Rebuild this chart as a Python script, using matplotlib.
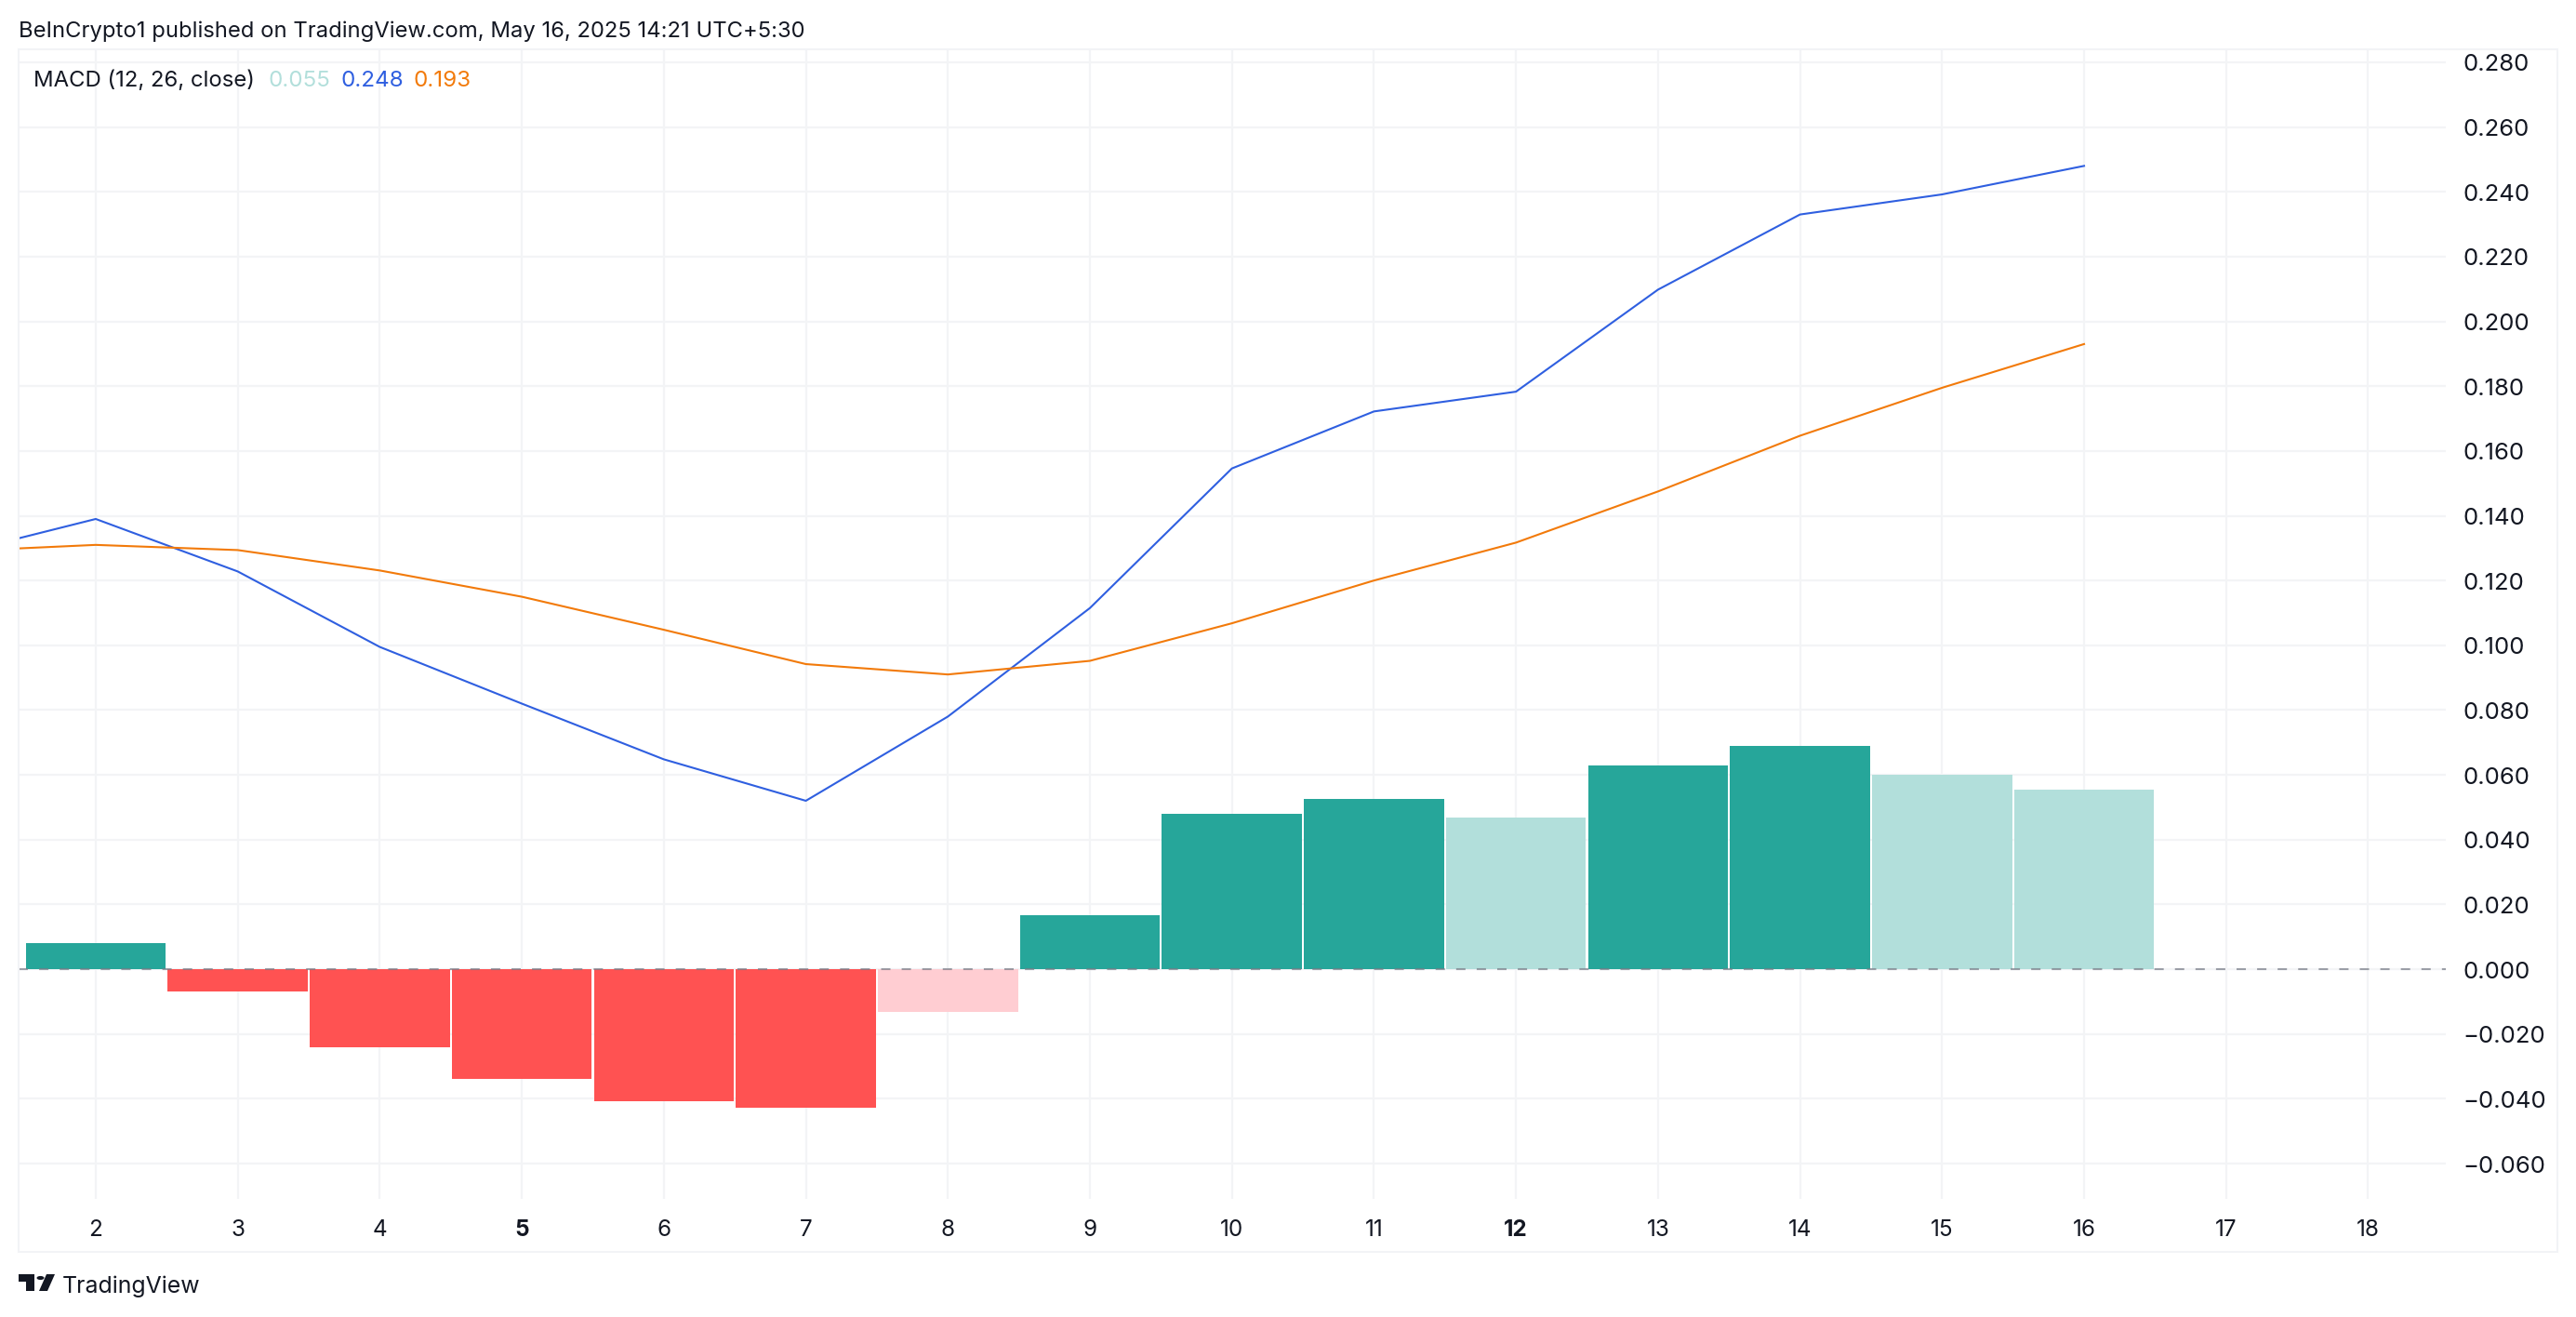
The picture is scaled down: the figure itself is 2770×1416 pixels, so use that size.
import matplotlib
matplotlib.use("Agg")
import matplotlib.pyplot as plt
from matplotlib.patches import Rectangle, Polygon, Circle
from matplotlib.transforms import ScaledTranslation

W, H = 2770, 1416
days = [2, 3, 4, 5, 6, 7, 8, 9, 10, 11, 12, 13, 14, 15, 16]
hist = [0.008, -0.0069, -0.0242, -0.0338, -0.0407, -0.0429, -0.0133, 0.0167,
        0.048, 0.0526, 0.0469, 0.0628, 0.0689, 0.0601, 0.0553]
hist_colors = ['#26a69a', '#ff5252', '#ff5252', '#ff5252', '#ff5252', '#ff5252', '#ffcdd2',
               '#26a69a', '#26a69a', '#26a69a', '#b2dfdb', '#26a69a', '#26a69a', '#b2dfdb', '#b2dfdb']
line_days = [1] + days
macd = [0.128, 0.139, 0.1228, 0.0995, 0.0820, 0.0648, 0.0520, 0.0780, 0.1115, 0.1546,
        0.1722, 0.1783, 0.2098, 0.2330, 0.2392, 0.248]
signal = [0.129, 0.131, 0.1294, 0.1231, 0.1150, 0.1048, 0.0942, 0.0910, 0.0952, 0.1068,
          0.1200, 0.1317, 0.1475, 0.1647, 0.1795, 0.193]
x_ticks = [2, 3, 4, 5, 6, 7, 8, 9, 10, 11, 12, 13, 14, 15, 16, 17, 18]
bold_ticks = [5, 12]
y_ticks = [-0.06, -0.04, -0.02, 0.0, 0.02, 0.04, 0.06, 0.08, 0.10, 0.12, 0.14,
           0.16, 0.18, 0.20, 0.22, 0.24, 0.26, 0.28]

plt.rcParams['font.family'] = ['Inter', 'DejaVu Sans']
fig = plt.figure(figsize=(W / 100, H / 100), dpi=100, facecolor='white')


def fx(px):
    return px / W


def fy(py):
    return 1 - py / H


def add_poly(pts):
    fig.add_artist(Polygon([(fx(a), fy(b)) for a, b in pts], closed=True,
                           transform=fig.transFigure, fc='#131722', ec='none'))


# outer frame
fig.add_artist(Rectangle((fx(20), fy(1346)), (2750 - 20) / W, (1346 - 53) / H,
                         transform=fig.transFigure, fill=False, ec='#f2f3f6', lw=1.5))

ax = fig.add_axes([fx(20), fy(1289), (2630 - 20) / W, (1289 - 53) / H])
ax.set_xlim(1.457, 18.547)
ax.set_ylim(-0.0709, 0.284)
for s in ax.spines.values():
    s.set_visible(False)
ax.grid(True, color='#f3f4f6', lw=1.6)
ax.set_axisbelow(True)

ax.bar(days, hist, width=0.986, color=hist_colors, linewidth=0, zorder=2)
ax.axhline(0, color='#787b86', lw=1.5, ls=(0, (4.8, 5.8)), alpha=0.7, zorder=3)
ax.plot(line_days, macd, color='#2f5fe0', lw=1.5, zorder=4, solid_joinstyle='round')
ax.plot(line_days, signal, color='#f27a0a', lw=1.5, zorder=4, solid_joinstyle='round')

ax.set_xticks(x_ticks)
ax.set_xticklabels([str(t) for t in x_ticks], fontsize=17.5, color='#131722')
for lab, t in zip(ax.get_xticklabels(), x_ticks):
    if t in bold_ticks:
        lab.set_fontweight('bold')
ax.set_yticks(y_ticks)
ax.set_yticklabels([f"{t:.3f}".replace('-', '\u2212') for t in y_ticks], fontsize=18.5, color='#131722')
ax.yaxis.tick_right()
ax.tick_params(axis='both', length=0)
ax.tick_params(axis='x', pad=15.5)
ax.tick_params(axis='y', pad=13.5)
shift = ScaledTranslation(0, -0.5 / 100, fig.dpi_scale_trans)
for lab in ax.get_yticklabels():
    lab.set_transform(lab.get_transform() + shift)

fig.text(fx(20), fy(34), "BeInCrypto1 published on TradingView.com, May 16, 2025 14:21 UTC+5:30",
         fontsize=17.15, color='#131722', va='center', ha='left')
fig.text(fx(36), fy(87), "MACD (12, 26, close)", fontsize=17.2, color='#131722', va='center')
fig.text(fx(288), fy(87), "0.055", fontsize=17.4, color='#b2dfdb', va='center')
fig.text(fx(366), fy(87), "0.248", fontsize=17.4, color='#2f5fe0', va='center')
fig.text(fx(445), fy(87), "0.193", fontsize=17.4, color='#f27a0a', va='center')

# TradingView logo
add_poly([(20, 1370), (37, 1370), (37, 1388), (28, 1388), (28, 1378), (20, 1378)])
add_poly([(50, 1370), (59, 1370), (51, 1388), (42, 1388)])
fig.add_artist(Circle((fx(43.5), fy(1374)), 4 / W, transform=fig.transFigure, fc='#131722', ec='none'))
fig.text(fx(67), fy(1383), "TradingView", fontsize=17.9, color='#131722', va='center', ha='left')

fig.savefig('out.png', dpi=100, facecolor='white')
